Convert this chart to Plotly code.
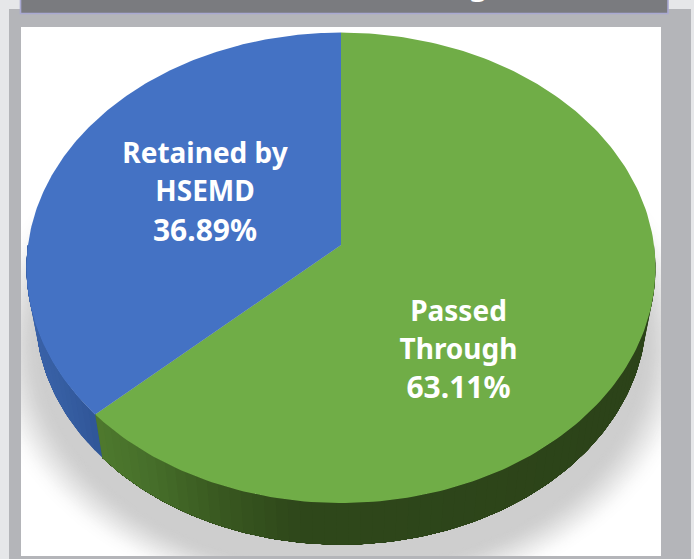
import numpy as np
import plotly.graph_objects as go

# Data (clockwise from 12 o'clock)
categories = ["Passed Through", "Retained by HSEMD"]
shares = [63.11, 36.89]
top_colors = ["#70ad47", "#4472c4"]
label_lines = [["Passed", "Through"], ["Retained by", "HSEMD"]]

# Layout constants
W, H = 694, 559
CX = 341
TOP_Y0, TOP_A, TOP_B = 245.0, 313.0, 233.0
BOT_Y0, BOT_A, BOT_B = 291.0, 304.0, 229.0
K = 0.097
LABEL_X = [458.5, 205]
LABEL_Y = [[314, 352, 390], [156, 194, 233]]
SIDE_STOPS = {
    0: [(97, "#4f7a2e"), (150, "#47702b"), (220, "#3a5a21"), (300, "#2f481b"), (660, "#2c4319")],
    1: [(20, "#3c64ab"), (60, "#375fa3"), (105, "#2f5597")],
}


def project(t, y0, a, b):
    X, Y = np.sin(t), np.cos(t)
    w = 1 + K * Y
    return CX + a * X / w, y0 - b * Y / w


def hex2rgb(c):
    return np.array([int(c[i:i + 2], 16) for i in (1, 3, 5)], float)


def side_color(stops, x):
    xs = [s[0] for s in stops]
    cs = np.array([hex2rgb(s[1]) for s in stops])
    r = [np.interp(x, xs, cs[:, i]) for i in range(3)]
    return "rgb(%d,%d,%d)" % tuple(int(v) for v in r)


def poly(x, y, color):
    return go.Scatter(x=x, y=y, mode="lines", fill="toself", fillcolor=color,
                      line=dict(color=color, width=0), hoverinfo="skip", showlegend=False)


fig = go.Figure()

# Soft drop shadow under the disc
n = 48
t = np.linspace(0, 2 * np.pi, 160)
for i in range(n):
    f = i / (n - 1)
    a = 358 - 58 * f
    b = 266 - 44 * f
    g = 255 - (255 - 206) * (f * f * (3 - 2 * f))
    c = "rgb(%d,%d,%d)" % (g, g, g)
    fig.add_trace(poly(CX + a * np.sin(t), 345 + b * np.cos(t), c))

# Slice angles from the values
fractions = np.array(shares) / sum(shares)
edges = np.concatenate([[0], np.cumsum(fractions)]) * 2 * np.pi

# Side wall, front half only: each band is painted over the rest of the wall
for idx in range(len(shares)):
    t0, t1 = edges[idx], edges[idx + 1]
    lo, hi = max(t0, np.pi / 2), min(t1, 3 * np.pi / 2)
    if hi <= lo:
        continue
    steps = max(2, int((hi - lo) / np.radians(2)))
    ts = np.linspace(lo, hi, steps + 1)
    for j in range(steps):
        tt = np.linspace(ts[j], hi, max(3, 2 * (steps - j)))
        xa, ya = project(tt, TOP_Y0, TOP_A, TOP_B)
        xb, yb = project(tt[::-1], BOT_Y0, BOT_A, BOT_B)
        col = side_color(SIDE_STOPS[idx], project(ts[j], TOP_Y0, TOP_A, TOP_B)[0])
        fig.add_trace(poly(np.r_[xa, xb], np.r_[ya, yb], col))

# Top faces
for idx in range(len(shares)):
    tt = np.linspace(edges[idx], edges[idx + 1], 200)
    xa, ya = project(tt, TOP_Y0, TOP_A, TOP_B)
    fig.add_trace(poly(np.r_[CX, xa, CX], np.r_[TOP_Y0, ya, TOP_Y0], top_colors[idx]))

# Labels
for idx in range(len(shares)):
    lines = label_lines[idx] + ["%.2f%%" % shares[idx]]
    fig.add_trace(go.Scatter(
        x=[LABEL_X[idx]] * 3, y=LABEL_Y[idx], text=lines, mode="text",
        textposition="middle center",
        textfont=dict(family="Noto Sans", size=[28, 28, 30], color="white", weight="bold"),
        hoverinfo="skip", showlegend=False))

FRAME = "#b4b5b9"
LIGHT = "#e6e7e9"
rects = [
    (0, -2, 9, H + 2, LIGHT), (691, -2, W + 2, H + 2, LIGHT), (9, -2, 691, 9, LIGHT),
    (9, 9, 21, H + 2, FRAME), (661, 9, 691, H + 2, FRAME),
    (9, 556, 691, H + 2, FRAME), (9, 9, 691, 27, FRAME),
]
shapes = [dict(type="rect", x0=a, y0=b, x1=c, y1=d, fillcolor=col, line_width=0, layer="above")
          for a, b, c, d, col in rects]
shapes.append(dict(type="rect", x0=20.5, y0=-3, x1=668, y1=13.5, fillcolor="#7a7b7f",
                   line=dict(color="#a9a9d2", width=1.6), layer="above"))

fig.update_layout(
    width=W, height=H, margin=dict(l=0, r=0, t=0, b=0),
    paper_bgcolor="white", plot_bgcolor="white",
    xaxis=dict(range=[0, W], visible=False, fixedrange=True),
    yaxis=dict(range=[H, 0], visible=False, fixedrange=True),
    shapes=shapes,
    annotations=[dict(x=478, y=6, text="<b>g</b>", showarrow=False, yanchor="bottom",
                      font=dict(family="Noto Sans", size=30, color="white"))],
)
fig.write_html("out.html", config={"displayModeBar": False},
               post_script="document.body.style.margin='0';document.body.style.overflow='hidden';")
